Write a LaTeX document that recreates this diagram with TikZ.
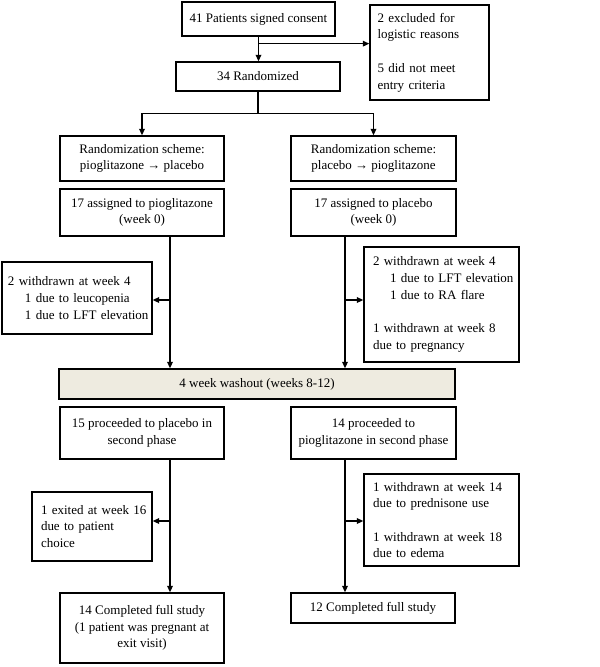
\documentclass[tikz,border=0pt]{standalone}
\usepackage{fontspec}
\setmainfont{Liberation Serif}
\usetikzlibrary{arrows.meta,calc}
\definecolor{washfill}{RGB}{238,235,224}
\newcommand{\oneline}[1]{\mbox{#1}}
\begin{document}
\begin{tikzpicture}[x=1pt,y=-1pt,
  every node/.style={font=\fontsize{13}{16.7}\selectfont},
  box/.style={draw, line width=1.3pt, inner sep=0pt, align=center},
  lbox/.style={draw, line width=1.3pt, inner ysep=0pt, align=left},
  conn/.style={line width=1.6pt},
  arr/.style={conn, -{Triangle[length=6.5pt,width=5.5pt]}}
]
\useasboundingbox (0,0) rectangle (600,667);
% boxes
\node[box, minimum width=153, minimum height=34] (consent) at (258.5,19) {41 Patients signed consent};
\node[lbox, minimum width=119, minimum height=95, text width=104, inner xsep=7.5] (excl) at (429.5,52.5)
  {\oneline{2 excluded for}\\\oneline{logistic reasons}\\[16.7pt]\oneline{5 did not meet}\\\oneline{entry criteria}};
\node[box, minimum width=164, minimum height=29] (rand) at (258,76.5) {34 Randomized};
\node[box, minimum width=164, minimum height=45] (schL) at (142,158.5) {Randomization scheme:\\pioglitazone → placebo};
\node[box, minimum width=165, minimum height=45] (schR) at (373.5,158.5) {Randomization scheme:\\placebo → pioglitazone};
\node[box, minimum width=164, minimum height=47] (assL) at (142,212.5) {17 assigned to pioglitazone\\(week 0)};
\node[box, minimum width=165, minimum height=47] (assR) at (373.5,212.5) {17 assigned to placebo\\(week 0)};
\node[lbox, minimum width=150, minimum height=72, text width=138, inner xsep=6] (wdL) at (77,298)
  {\oneline{2 withdrawn at week 4}\\\oneline{\hspace*{17pt}1 due to leucopenia}\\\oneline{\hspace*{17pt}1 due to LFT elevation}};
\node[lbox, minimum width=155, minimum height=115, text width=137, inner xsep=9] (wdR) at (441.5,304.5)
  {\oneline{2 withdrawn at week 4}\\\oneline{\hspace*{17pt}1 due to LFT elevation}\\\oneline{\hspace*{17pt}1 due to RA flare}\\[16.7pt]\oneline{1 withdrawn at week 8}\\\oneline{due to pregnancy}};
\node[box, fill=washfill, minimum width=396, minimum height=30] (wash) at (257,384) {4 week washout (weeks 8-12)};
\node[box, minimum width=164, minimum height=52] (proL) at (142,433) {15 proceeded to placebo in\\second phase};
\node[box, minimum width=165, minimum height=52] (proR) at (373.5,433) {14 proceeded to\\pioglitazone in second phase};
\node[lbox, minimum width=120, minimum height=69, text width=102, inner xsep=9] (exL) at (92,526.5)
  {\oneline{1 exited at week 16}\\\oneline{due to patient}\\\oneline{choice}};
\node[lbox, minimum width=155, minimum height=92, text width=137, inner xsep=9] (exR) at (441.5,520)
  {\oneline{1 withdrawn at week 14}\\\oneline{due to prednisone use}\\[16.7pt]\oneline{1 withdrawn at week 18}\\\oneline{due to edema}};
\node[box, minimum width=164, minimum height=70] (finL) at (142,628) {14 Completed full study\\(1 patient was pregnant at\\exit visit)};
\node[box, minimum width=164, minimum height=30] (finR) at (373,608) {12 Completed full study};
% connectors
\coordinate (vL) at (170,0);
\coordinate (vR) at (345,0);
\draw[arr] (consent.south) -- (consent.south |- rand.north);
\coordinate (b1) at ($(consent.south)+(0,7)$);
\draw[arr] (b1) -- (excl.west |- b1);
\draw[conn] (rand.south) -- ++(0,22) coordinate (b2);
\draw[arr] (b2) -| (schL.north);
\draw[arr] (b2) -| (schR.north);
\draw[arr] (assL.south -| vL) -- (wash.north -| vL);
\draw[arr] (assR.south -| vR) -- (wash.north -| vR);
\coordinate (jL1) at (170,300);
\coordinate (jR1) at (345,300);
\draw[arr] (jL1) -- (wdL.east |- jL1);
\draw[arr] (jR1) -- (wdR.west |- jR1);
\draw[arr] (proL.south -| vL) -- (finL.north -| vL);
\draw[arr] (proR.south -| vR) -- (finR.north -| vR);
\coordinate (jL2) at (170,521);
\coordinate (jR2) at (345,521);
\draw[arr] (jL2) -- (exL.east |- jL2);
\draw[arr] (jR2) -- (exR.west |- jR2);
\end{tikzpicture}
\end{document}
